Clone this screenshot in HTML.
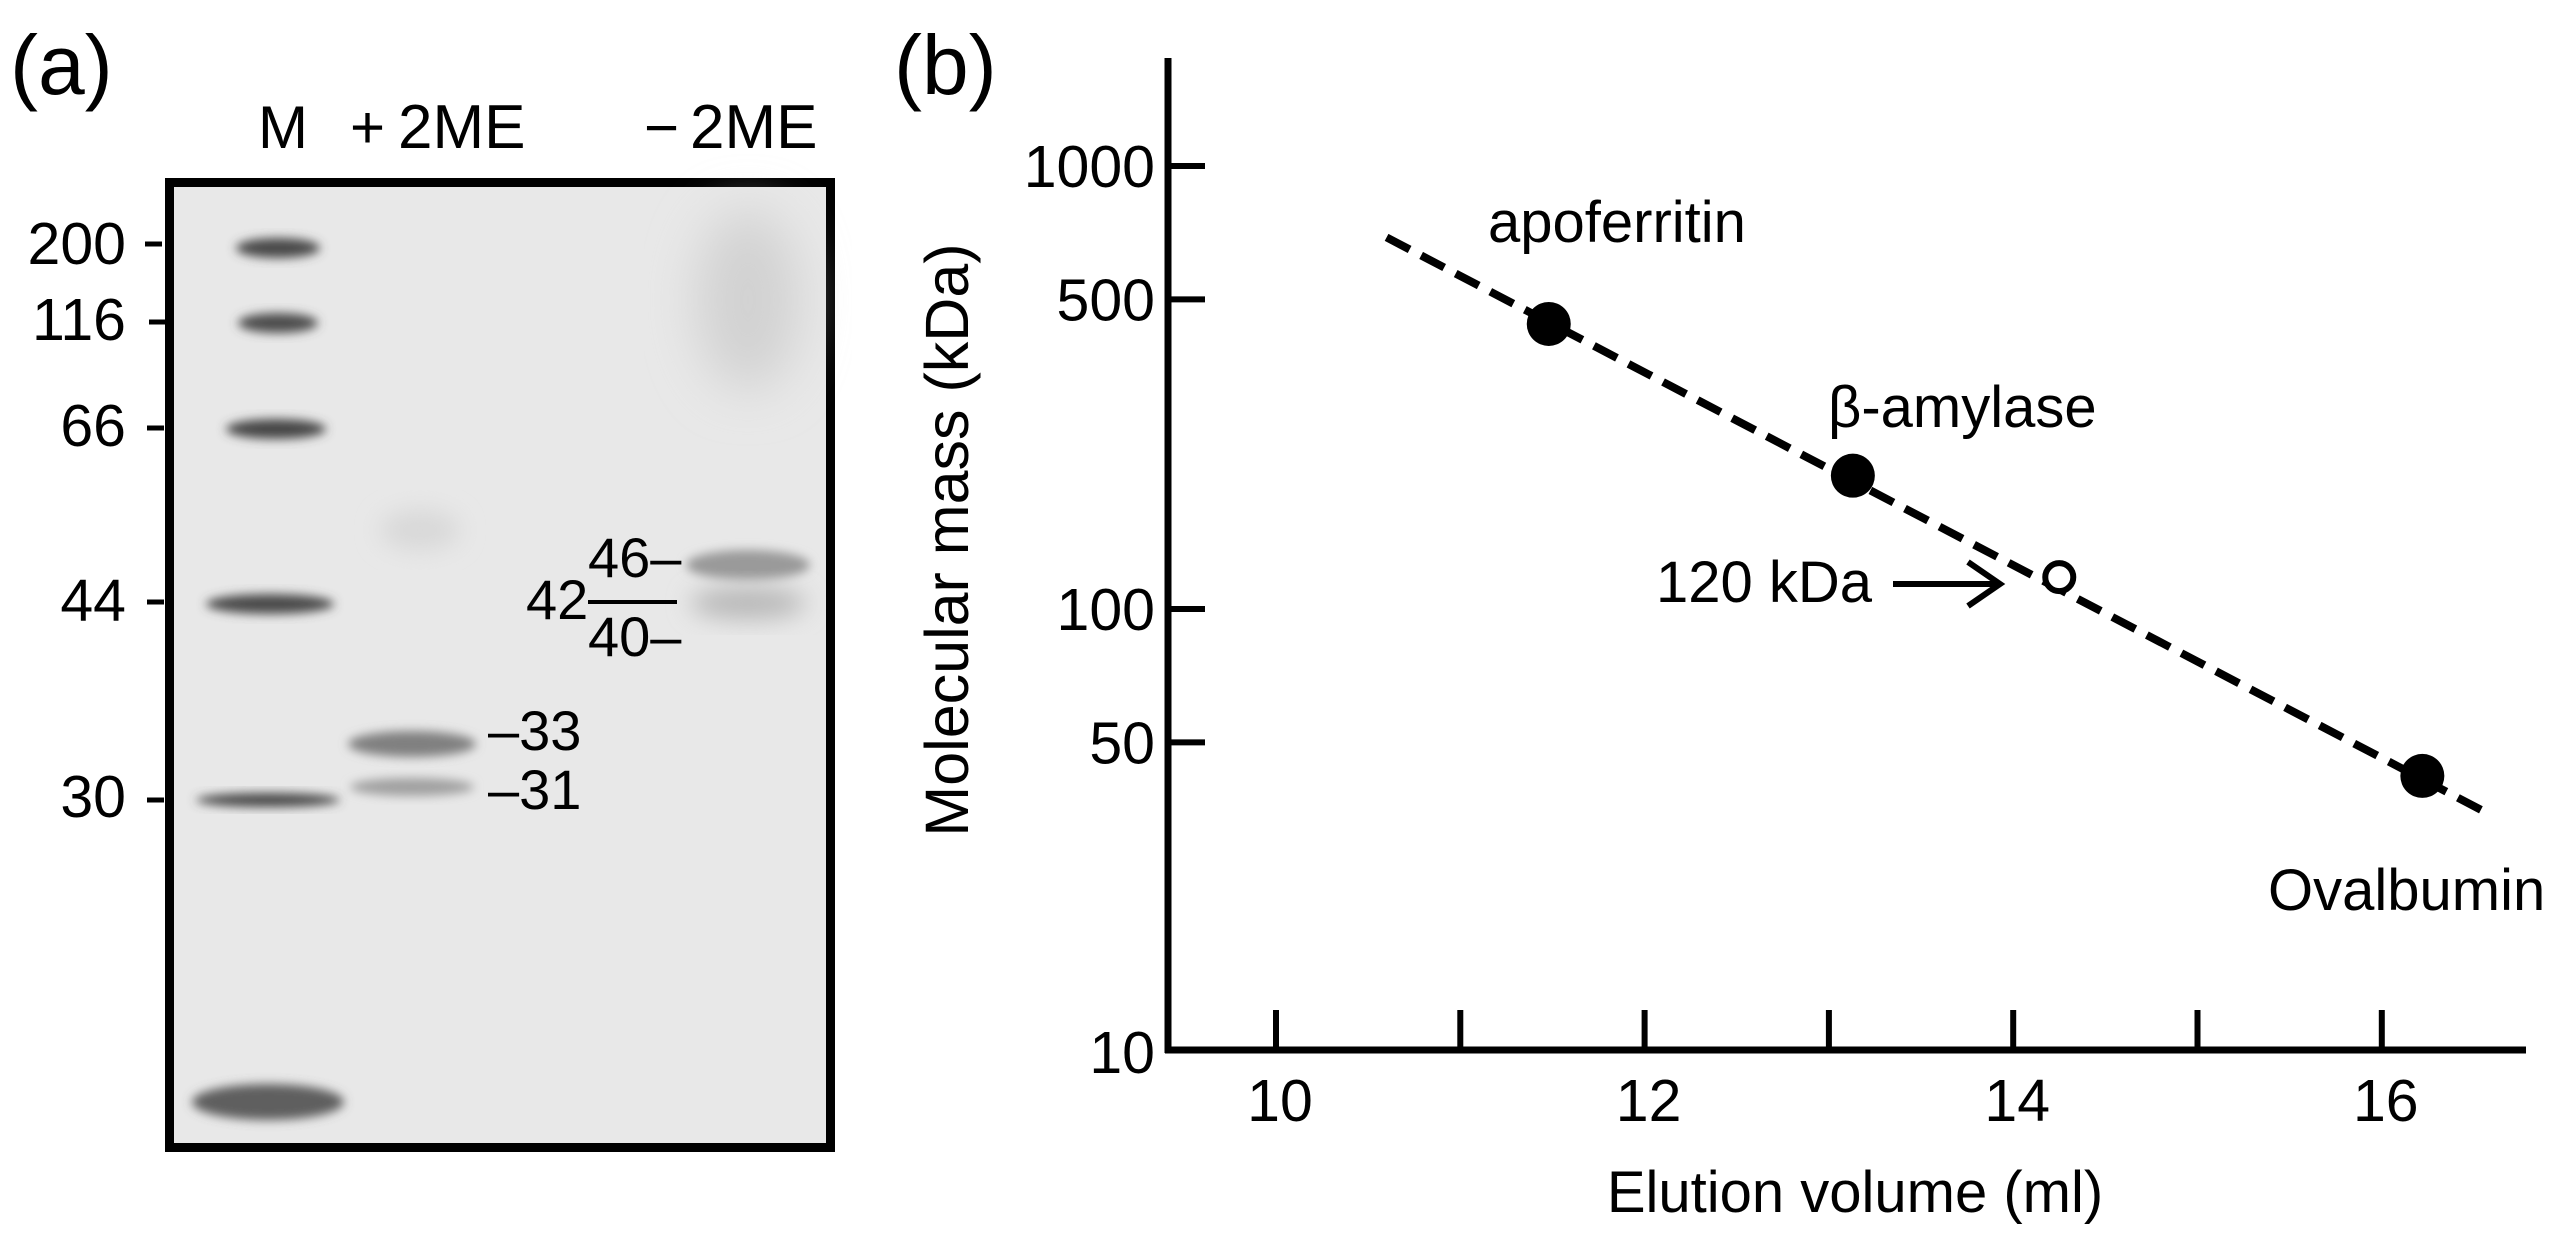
<!DOCTYPE html>
<html><head><meta charset="utf-8"><style>
html,body{margin:0;padding:0;background:#fff;}
svg{display:block;font-family:"Liberation Sans",Arial,sans-serif;}
</style></head><body>
<svg id="fig" width="2564" height="1240" viewBox="0 0 2564 1240" xmlns="http://www.w3.org/2000/svg">
<defs>
<filter id="blur6" x="-50%" y="-50%" width="200%" height="200%"><feGaussianBlur stdDeviation="5"/></filter>
<filter id="blur14" x="-50%" y="-50%" width="200%" height="200%"><feGaussianBlur stdDeviation="12"/></filter>
<filter id="blur25" x="-50%" y="-50%" width="200%" height="200%"><feGaussianBlur stdDeviation="25"/></filter>
</defs>

<!-- Panel (a) -->
<g>
<text x="10" y="94" font-size="84">(a)</text>
<text x="258" y="148" font-size="60">M</text>
<text x="350" y="148" font-size="60">+</text>
<text x="398" y="148" font-size="62">2ME</text>
<text x="644" y="148" font-size="60">−</text>
<text x="690" y="148" font-size="62">2ME</text>

<rect x="169.5" y="182.5" width="661" height="965" fill="#e8e8e8" stroke="#000" stroke-width="9"/>
<g>
<ellipse cx="278" cy="248" rx="42" ry="10" fill="#4a4a4a" filter="url(#blur6)"/>
<ellipse cx="278" cy="323" rx="40" ry="10" fill="#4e4e4e" filter="url(#blur6)"/>
<ellipse cx="276" cy="429" rx="50" ry="10" fill="#464646" filter="url(#blur6)"/>
<ellipse cx="270" cy="604" rx="64" ry="10" fill="#4c4c4c" filter="url(#blur6)"/>
<ellipse cx="268" cy="800" rx="72" ry="7" fill="#4a4a4a" filter="url(#blur6)"/>
<ellipse cx="268" cy="1102" rx="76" ry="18" fill="#5e5e5e" filter="url(#blur6)"/>
<ellipse cx="412" cy="744" rx="64" ry="13" fill="#808080" filter="url(#blur6)"/>
<ellipse cx="412" cy="787" rx="62" ry="9" fill="#a0a0a0" filter="url(#blur6)"/>
<ellipse cx="420" cy="530" rx="40" ry="20" fill="#d8d8d8" filter="url(#blur14)"/>
<ellipse cx="748" cy="300" rx="52" ry="90" fill="#d2d2d2" filter="url(#blur25)"/>
<ellipse cx="748" cy="565" rx="62" ry="15" fill="#9a9a9a" filter="url(#blur6)"/>
<ellipse cx="748" cy="603" rx="58" ry="16" fill="#b8b8b8" filter="url(#blur14)"/>
</g>
<g font-size="59" text-anchor="end">
<text x="126" y="264">200</text>
<text x="126" y="340">116</text>
<text x="126" y="446">66</text>
<text x="126" y="621">44</text>
<text x="126" y="817">30</text>
</g>
<g stroke="#000" stroke-width="5">
<line x1="145" y1="244" x2="162" y2="244"/>
<line x1="149" y1="322" x2="166" y2="322"/>
<line x1="147" y1="428" x2="164" y2="428"/>
<line x1="147" y1="602" x2="164" y2="602"/>
<line x1="147" y1="800" x2="164" y2="800"/>
</g>
<g font-size="56">
<text x="588" y="577">46–</text>
<text x="526" y="619">42</text>
<line x1="588" y1="602" x2="677" y2="602" stroke="#000" stroke-width="4"/>
<text x="588" y="656">40–</text>
<text x="488" y="750">–33</text>
<text x="488" y="809">–31</text>
</g>
</g>

<!-- Panel (b) -->
<g>
<text x="894" y="94" font-size="84">(b)</text>
<text transform="translate(968,540) rotate(-90)" text-anchor="middle" font-size="61">Molecular mass (kDa)</text>
<text x="1855" y="1212" text-anchor="middle" font-size="58">Elution volume (ml)</text>
<g id="axes"></g>
<g id="marks"></g>
<text x="1488" y="242" font-size="58">apoferritin</text>
<text x="1828" y="427" font-size="58">β-amylase</text>
<text x="1656" y="602" font-size="58">120 kDa</text>
<text x="2268" y="910" font-size="58">Ovalbumin</text>
<g stroke="#000" stroke-width="6" fill="none">
<line x1="1893" y1="584" x2="2000" y2="584"/>
<polyline points="1968,562 2000,584 1968,606"/>
</g>
</g>

<script>
const xTicks = [10, 11, 12, 13, 14, 15, 16];
const xTickLabels = ["10", "12", "14", "16"];
const xLabelValues = [10, 12, 14, 16];
const yTicks = [1000, 500, 100, 50, 10];
const yTickLabels = ["1000", "500", "100", "50", "10"];
const stdNames = ["apoferritin", "beta-amylase", "ovalbumin"];
const stdVolume = [11.48, 13.13, 16.22];
const stdMass = [440, 200, 42];
const sampleVolume = [14.25];
const sampleMass = [118];
const fitVolume = [10.6, 16.55];
const fitMass = [690, 35];

const NS = "http://www.w3.org/2000/svg";
function xs(v){ return 1276 + (v - 10) * 184.3; }
function ys(m){ return 1052 - (Math.log10(m) - 1) * 443; }
function mk(tag, attrs, parent){
  const e = document.createElementNS(NS, tag);
  for (const k in attrs) e.setAttribute(k, attrs[k]);
  parent.appendChild(e);
  return e;
}
const axes = document.getElementById("axes");
const marks = document.getElementById("marks");

let ya = mk("line", {x1:1168, y1:58, x2:1168, y2:1053, stroke:"#000", "stroke-width":7}, axes);


let xa = mk("line", {x1:1165, y1:1050, x2:2526, y2:1050, stroke:"#000", "stroke-width":7}, axes);



yTicks.forEach((t, i) => {
  const y = ys(t);
  if (t !== 10) {
    const tk = mk("line", {x1:1168, y1:y, x2:1205, y2:y, stroke:"#000", "stroke-width":6}, axes);
    
    
  }
  const lb = mk("text", {x:1155, y:y + 21, "text-anchor":"end", "font-size":59}, axes);
  lb.textContent = yTickLabels[i];
  
  
});
xTicks.forEach(t => {
  const x = xs(t);
  const tk = mk("line", {x1:x, y1:1010, x2:x, y2:1050, stroke:"#000", "stroke-width":6}, axes);
  
  
});
xLabelValues.forEach((v, i) => {
  const lb = mk("text", {x:xs(v) + 4, y:1121, "text-anchor":"middle", "font-size":59}, axes);
  lb.textContent = xTickLabels[i];
  
  
});

const fit = mk("line", {x1:xs(fitVolume[0]), y1:ys(fitMass[0]), x2:xs(fitVolume[1]), y2:ys(fitMass[1]), stroke:"#000", "stroke-width":8, "stroke-dasharray":"26 13"}, marks);



stdVolume.forEach((v, i) => {
  const c = mk("circle", {cx:xs(v), cy:ys(stdMass[i]), r:22, fill:"#000"}, marks);
  
  
});
sampleVolume.forEach((v, i) => {
  const c = mk("circle", {cx:xs(v), cy:ys(sampleMass[i]), r:14, fill:"#fff", stroke:"#000", "stroke-width":6}, marks);
  
  
});
</script>
</svg>
</body></html>
